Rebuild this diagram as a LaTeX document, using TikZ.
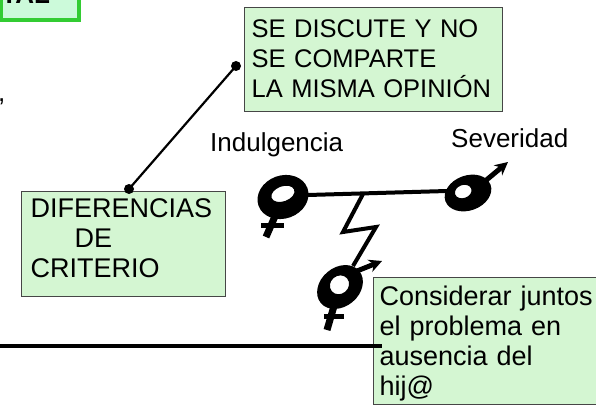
\documentclass[tikz,border=0pt]{standalone}
\usepackage{fontspec}
\setmainfont{Liberation Sans}
\usetikzlibrary{arrows.meta}
\definecolor{boxfill}{RGB}{212,246,210}
\definecolor{boxline}{RGB}{70,70,70}
\definecolor{talfill}{RGB}{204,250,218}
\definecolor{talline}{RGB}{51,204,51}
\tikzset{
  tbox/.style={draw=boxline, line width=1.2pt, fill=boxfill, anchor=north west,
    align=left, inner ysep=0pt, font=\fontsize{26}{30}\selectfont},
  midtext/.style={font=\fontsize{25.5}{30}\selectfont},
  bigtext/.style={font=\fontsize{27}{30}\selectfont},
  lbl/.style={anchor=base west, inner sep=0pt, font=\fontsize{26}{30}\selectfont},
  ring/.style={fill=black, even odd rule},
  stroke/.style={line width=4pt, line join=miter},
  crossstem/.style={line width=7pt},
  crossbar/.style={line width=5pt},
  arrowshaft/.style={line width=5pt, -{Stealth[length=13pt,width=13pt]}},
  connector/.style={line width=2.2pt},
  dotmark/.style={fill=black}
}
\begin{document}
\begin{tikzpicture}[x=1pt,y=-1pt]
\useasboundingbox (0,0) rectangle (596,406);

% top-left title box (cut off)
\node[draw=talline, line width=4pt, fill=talfill, anchor=south east, inner sep=0pt,
      font=\fontsize{26}{30}\selectfont\bfseries] (tal) at (81,22)
      {TAL\hspace*{29pt}\rule[-16pt]{0pt}{56pt}};

% cut-off comma
\node[lbl] (comma) at (-2,102) {,};

% boxes
\node[tbox, midtext, text width=244pt, inner xsep=7pt] (sebox) at (244,7)
  {\rule{0pt}{30pt}\mbox{SE DISCUTE Y NO}\\\mbox{SE COMPARTE}\\\mbox{LA MISMA OPINIÓN}\rule[-14pt]{0pt}{14pt}};
\node[tbox, bigtext, text width=186pt, inner xsep=9pt] (difbox) at (21,191)
  {\rule{0pt}{26pt}\mbox{DIFERENCIAS}\\\hspace*{44pt}DE\\CRITERIO\rule[-19pt]{0pt}{19pt}};
\node[tbox, bigtext, text width=228pt, inner xsep=6pt] (consbox) at (373,277)
  {\rule{0pt}{28pt}\mbox{Considerar juntos}\\el problema en\\ausencia del\\hij@\rule[-9pt]{0pt}{9pt}};

% connector between boxes
\coordinate (d1) at (236,66);
\coordinate (d2) at (129,189);
\draw[connector] (d1) -- (d2);
\fill[dotmark] (d1) circle (5pt);
\fill[dotmark] (d2) circle (5pt);

% long horizontal line
\coordinate (hl0) at (-3,346);
\coordinate (hl1) at (382,346);
\draw[stroke] (hl0) -- (hl1);

% labels
\node[lbl] (indul) at (210,152) {Indulgencia};
\node[lbl] (sever) at (451,147) {Severidad};

% female symbol (Indulgencia)
\begin{scope}[rotate around={20:(283,197)}]
  \path[ring] (283,197) circle[x radius=26pt, y radius=21.5pt]
              (284,194) circle[x radius=12pt, y radius=7.5pt];
\end{scope}
\draw[crossstem] (276,214) -- (266,237);
\draw[crossbar] (261,225) -- (284,225);

% male symbol (Severidad)
\begin{scope}[rotate around={20:(468,193)}]
  \path[ring] (468,193) circle[x radius=24pt, y radius=17.5pt]
              (464,190) circle[x radius=8.5pt, y radius=6.5pt];
\end{scope}
\draw[arrowshaft] (484,182) -- (508,162);

% link between them
\draw[stroke] (308,195) -- (447,191);
\draw[stroke] (363,194) -- (343,232) -- (376,227) -- (353,266);

% lower combined symbol
\begin{scope}[rotate around={40:(340,287)}]
  \path[ring] (340,287) circle[x radius=25pt, y radius=19.5pt]
              (341,285) circle[x radius=10pt, y radius=9pt];
\end{scope}
\draw[arrowshaft] (357,271) -- (382,261);
\draw[crossstem] (334,306) -- (327,330);
\draw[crossbar] (324,316) -- (344,316);
\end{tikzpicture}
\end{document}
